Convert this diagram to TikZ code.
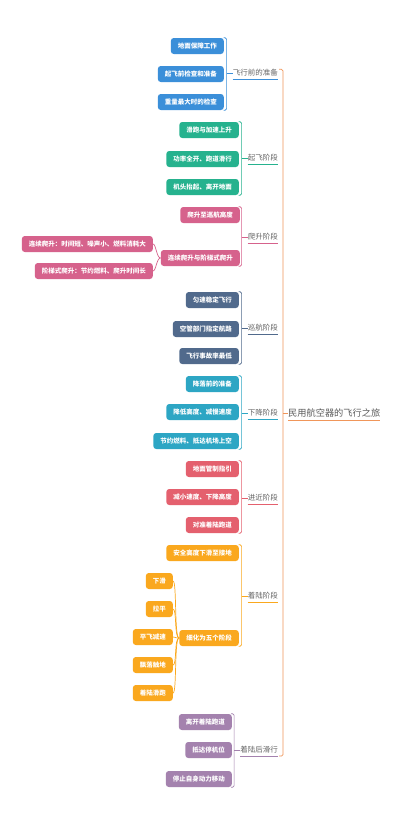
\documentclass[tikz,border=0pt]{standalone}
\usepackage{fontspec}
\setmainfont{Noto Sans CJK SC}
\usetikzlibrary{calc}
\definecolor{cA}{RGB}{59,143,217}
\definecolor{cB}{RGB}{38,178,142}
\definecolor{cC}{RGB}{214,98,140}
\definecolor{cD}{RGB}{81,106,140}
\definecolor{cE}{RGB}{45,166,196}
\definecolor{cF}{RGB}{228,96,110}
\definecolor{cG}{RGB}{250,168,30}
\definecolor{cH}{RGB}{164,130,174}
\definecolor{cRoot}{RGB}{240,150,90}
\definecolor{txtgray}{RGB}{100,100,100}
\newcommand\brk[4]{% color, l1 node, first child, last child
  \draw[#1, rounded corners=1.5pt, line width=0.7pt] let \p1=(#2.west), \p2=(#3.north), \p3=(#4.south) in
    (\x1-9pt,\y2) -- (\x1-6pt,\y2) -- (\x1-6pt,\y3) -- (\x1-9pt,\y3);
  \draw[#1, line width=0.7pt] let \p1=(#2.west) in (\x1-6pt,\y1) -- (#2.west);
  \draw[#1, line width=0.7pt] ($(#2.west)+(0,6)$) -- ($(#2.east)+(0,6)$);
}
\begin{document}
\begin{tikzpicture}[x=1pt,y=-1pt,
  l2/.style={rounded corners=3pt, text=white, font=\fontsize{6.5}{7}\selectfont\bfseries,
    minimum height=16pt, inner xsep=7pt, inner ysep=0pt, anchor=east},
  l1/.style={font=\fontsize{7.5}{8}\selectfont, text=txtgray, inner sep=0pt, anchor=east},
  sub/.style={line width=0.7pt}]
\useasboundingbox[fill=white] (0,0) rectangle (400,825);

% root
\node[font=\fontsize{9.2}{10}\selectfont, text=txtgray!90!black, inner sep=0pt, anchor=west] (root) at (288,413) {民用航空器的飞行之旅};
\draw[cRoot, line width=0.7pt] ($(root.west)+(0,7)$) -- ($(root.east)+(0,7)$);

% branch 1
\node[l1] (b1) at (278,73) {飞行前的准备};
\node[l2, fill=cA] (a11) at (224,46) {地面保障工作};
\node[l2, fill=cA] (a12) at (224,74) {起飞前检查和准备};
\node[l2, fill=cA] (a13) at (224,102) {重量最大时的检查};
\brk{cA}{b1}{a11}{a13}

% branch 2
\node[l1] (b2) at (278,158) {起飞阶段};
\node[l2, fill=cB] (a21) at (239,130) {滑跑与加速上升};
\node[l2, fill=cB] (a22) at (239,159) {功率全开、跑道滑行};
\node[l2, fill=cB] (a23) at (239,187) {机头抬起、离开地面};
\brk{cB}{b2}{a21}{a23}

% branch 3
\node[l1] (b3) at (278,237) {爬升阶段};
\node[l2, fill=cC] (a31) at (240,215) {爬升至巡航高度};
\node[l2, fill=cC] (a32) at (240,258) {连续爬升与阶梯式爬升};
\node[l2, fill=cC] (d31) at (153,244) {连续爬升：时间短、噪声小、燃料消耗大};
\node[l2, fill=cC] (d32) at (153,271) {阶梯式爬升：节约燃料、爬升时间长};
\brk{cC}{b3}{a31}{a32}
\draw[cC, sub] (a32.west) .. controls +(-4,0) and +(3,0) .. (d31.east);
\draw[cC, sub] (a32.west) .. controls +(-4,0) and +(3,0) .. (d32.east);

% branch 4
\node[l1] (b4) at (278,328) {巡航阶段};
\node[l2, fill=cD] (a41) at (239,300) {匀速稳定飞行};
\node[l2, fill=cD] (a42) at (239,329) {空管部门指定航路};
\node[l2, fill=cD] (a43) at (239,356) {飞行事故率最低};
\brk{cD}{b4}{a41}{a43}

% branch 5
\node[l1] (b5) at (278,413) {下降阶段};
\node[l2, fill=cE] (a51) at (239,384) {降落前的准备};
\node[l2, fill=cE] (a52) at (239,412) {降低高度、减慢速度};
\node[l2, fill=cE] (a53) at (239,441) {节约燃料、抵达机场上空};
\brk{cE}{b5}{a51}{a53}

% branch 6
\node[l1] (b6) at (278,498) {进近阶段};
\node[l2, fill=cF] (a61) at (239,469) {地面管制指引};
\node[l2, fill=cF] (a62) at (239,497) {减小速度、下降高度};
\node[l2, fill=cF] (a63) at (239,525) {对准着陆跑道};
\brk{cF}{b6}{a61}{a63}

% branch 7
\node[l1] (b7) at (278,596) {着陆阶段};
\node[l2, fill=cG] (a71) at (239,553) {安全高度下滑至接地};
\node[l2, fill=cG] (a72) at (239,638) {细化为五个阶段};
\brk{cG}{b7}{a71}{a72}
\node[l2, fill=cG] (d71) at (173,581) {下滑};
\node[l2, fill=cG] (d72) at (173,609) {拉平};
\node[l2, fill=cG] (d73) at (173,637) {平飞减速};
\node[l2, fill=cG] (d74) at (173,665) {飘落触地};
\node[l2, fill=cG] (d75) at (173,693) {着陆滑跑};
\foreach \k in {1,...,5}{
  \draw[cG, sub] (a72.west) .. controls +(-5,0) and +(4,0) .. (d7\k.east);
}

% branch 8
\node[l1] (b8) at (278,750) {着陆后滑行};
\node[l2, fill=cH] (a81) at (232,722) {离开着陆跑道};
\node[l2, fill=cH] (a82) at (232,750) {抵达停机位};
\node[l2, fill=cH] (a83) at (232,779) {停止自身动力移动};
\brk{cH}{b8}{a81}{a83}

% root bracket
\draw[cRoot, rounded corners=1.5pt, line width=0.7pt] let \p1=(root.west), \p2=(b1.north), \p3=($(b8.west)+(0,6)$) in
  (\x1-9pt,\y2) -- (\x1-5pt,\y2) -- (\x1-5pt,\y3) -- (\x1-9pt,\y3);
\draw[cRoot, line width=0.7pt] let \p1=(root.west) in (\x1-5pt,\y1) -- (root.west);
\end{tikzpicture}
\end{document}
